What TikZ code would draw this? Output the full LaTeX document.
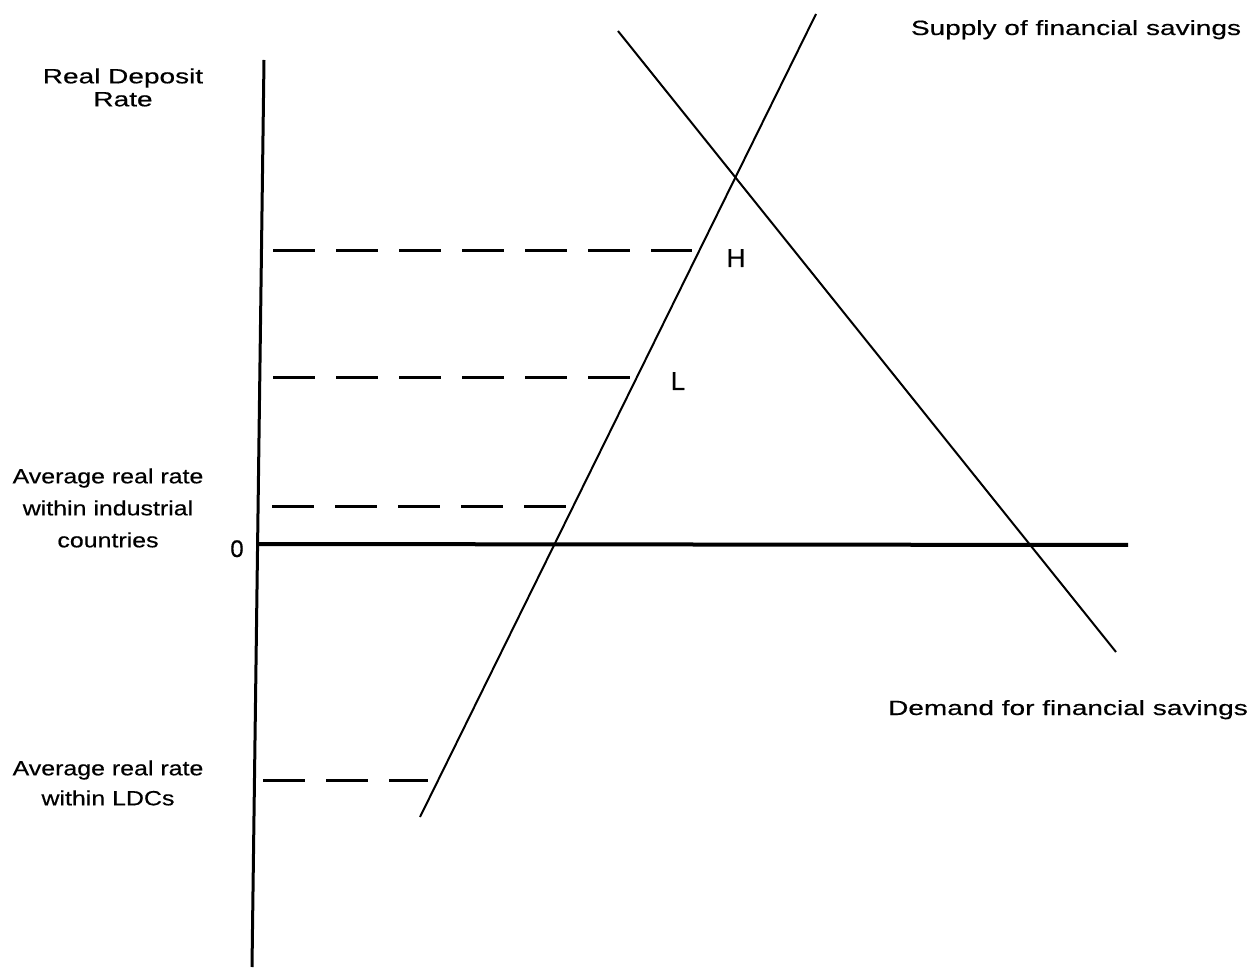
\documentclass[tikz,border=0pt]{standalone}
\usepackage{fontspec}
\setmainfont{Liberation Sans}
\newfontfamily\widefont[FakeStretch=1.36,FakeBold=0.5]{Liberation Sans}
\newfontfamily\midfont[FakeStretch=1.21,FakeBold=0.5]{Liberation Sans}
\newfontfamily\ptfont[FakeBold=0.5]{Liberation Sans}
\begin{document}
\begin{tikzpicture}[x=0.5pt,y=-0.5pt,
  vaxis/.style={line width=1.5pt},
  haxis/.style={line width=2pt},
  curve/.style={line width=1pt},
  guide/.style={line width=1.5pt, dash pattern=on 21pt off 10.5pt},
  widelbl/.style={inner sep=0pt, anchor=base, font=\widefont\fontsize{10.3}{11.5}\selectfont},
  toplbl/.style={inner sep=0pt, anchor=north, align=center, font=\widefont\fontsize{10.3}{11.5}\selectfont},
  sidelbl/.style={inner sep=0pt, anchor=north, align=center, font=\midfont\fontsize{10.3}{16}\selectfont},
  ldclbl/.style={inner sep=0pt, anchor=north, align=center, font=\midfont\fontsize{10.3}{15}\selectfont},
  ptlbl/.style={inner sep=0pt, anchor=base, font=\ptfont\fontsize{13}{14}\selectfont},
  zerolbl/.style={inner sep=0pt, anchor=base, font=\ptfont\fontsize{12}{13}\selectfont}]
\useasboundingbox (0,0) rectangle (1259,978);
% axes
\coordinate (ytop) at (264,60);
\coordinate (ybot) at (252,967);
\coordinate (xl) at (257,544);
\coordinate (xr) at (1128,545);
\draw[vaxis] (ytop) -- (ybot);
\draw[haxis] (xl) -- (xr);
% supply and demand
\coordinate (s1) at (420,817);
\coordinate (s2) at (816,14);
\coordinate (d1) at (618,31);
\coordinate (d2) at (1116,652);
\draw[curve] (s1) -- (s2);
\draw[curve] (d1) -- (d2);
% dashed guides
\coordinate (hA) at (273,251);
\coordinate (hB) at (692,251);
\coordinate (lA) at (273,378);
\coordinate (lB) at (630,378);
\coordinate (iA) at (272,507);
\coordinate (iB) at (567,507);
\coordinate (dA) at (263,780);
\coordinate (dB) at (428,780);
\draw[guide] (hA) -- (hB);
\draw[guide] (lA) -- (lB);
\draw[guide] (iA) -- (iB);
\draw[guide] (dA) -- (dB);
% labels
\node[toplbl] (rdr) at (123,68) {Real Deposit\\Rate};
\node[widelbl] (sup) at (1076,35) {Supply of financial savings};
\node[widelbl] (dem) at (1068,715) {Demand for financial savings};
\node[ptlbl] (H) at (736,267) {H};
\node[ptlbl] (L) at (678,390) {L};
\node[zerolbl] (zero) at (237,557) {0};
\node[sidelbl] (ind) at (108,468) {Average real rate\\within industrial\\countries};
\node[ldclbl] (ldc) at (108,760) {Average real rate\\within LDCs};
\end{tikzpicture}
\end{document}
